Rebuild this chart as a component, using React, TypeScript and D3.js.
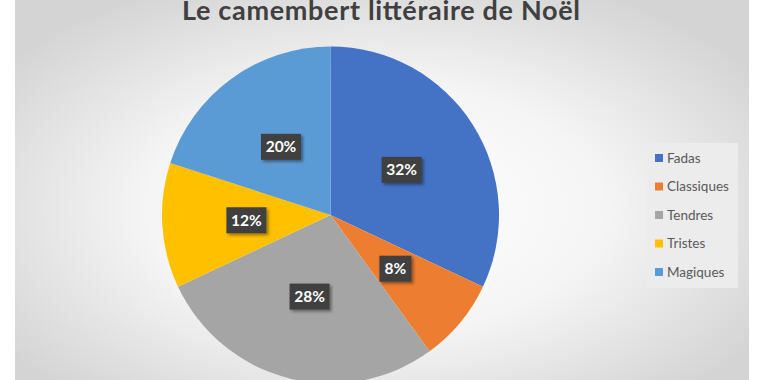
import React from "react";
import * as d3 from "d3";

const categories = ["Fadas", "Classiques", "Tendres", "Tristes", "Magiques"];
const values = [32, 8, 28, 12, 20];
const colors = ["#4472C4", "#ED7D31", "#A5A5A5", "#FFC000", "#5B9BD5"];
const title = "Le camembert littéraire de Noël";

const W = 760;
const H = 380;
const cx = 330.5;
const cy = 215;
const R = 168.5;

export default function App() {
  const pie = d3.pie<number>().sort(null).value((d) => d);
  const arcs = pie(values);
  const arcGen = d3.arc<d3.PieArcDatum<number>>().innerRadius(0).outerRadius(R);
  const total = d3.sum(values);
  const legendY = d3.scalePoint<string>().domain(categories).range([158, 272]);

  return (
    <svg
      width={W}
      height={H}
      style={{ position: "absolute", left: 0, top: 0, background: "#fff" }}
      fontFamily="Lato, 'Open Sans', sans-serif"
    >
      <defs>
        <radialGradient id="bg" cx="49%" cy="52%" r="62%" gradientUnits="objectBoundingBox">
          <stop offset="0%" stopColor="#ffffff" />
          <stop offset="50%" stopColor="#f5f5f5" />
          <stop offset="100%" stopColor="#d4d4d4" />
        </radialGradient>
        <filter id="sh" x="-30%" y="-30%" width="170%" height="170%">
          <feDropShadow dx="2" dy="2" stdDeviation="1.5" floodColor="#000" floodOpacity="0.4" />
        </filter>
      </defs>
      <rect x={15} y={0} width={734} height={400} fill="url(#bg)" />
      <text
        x={381}
        y={20}
        textAnchor="middle"
        fontSize={27}
        fontWeight="bold"
        fill="#404040"
        textLength={398}
        lengthAdjust="spacing"
      >
        {title}
      </text>
      <g>
        {arcs.map((a, i) => (
          <path
            key={categories[i]}
            d={arcGen(a) || ""}
            transform={`translate(${cx},${cy})`}
            fill={colors[i]}
          />
        ))}
      </g>
      <g>
        {arcs.map((a, i) => {
          const [x, y] = arcGen.centroid(a);
          const label = `${Math.round((values[i] / total) * 100)}%`;
          const w = label.length === 2 ? 32 : 40;
          return (
            <g key={categories[i]} transform={`translate(${cx + x},${cy + y})`}>
              <rect
                x={-w / 2}
                y={-13}
                width={w}
                height={26}
                fill="#404040"
                filter="url(#sh)"
              />
              <text
                x={0}
                y={0}
                dy="0.36em"
                textAnchor="middle"
                fontSize={15.5}
                fontWeight="bold"
                fill="#ffffff"
              >
                {label}
              </text>
            </g>
          );
        })}
      </g>
      <g>
        <rect x={647} y={143} width={91} height={145} fill="#ececec" />
        {categories.map((c, i) => {
          const y = legendY(c) as number;
          return (
            <g key={c}>
              <rect x={655} y={y - 4} width={8} height={8} fill={colors[i]} />
              <text x={667} y={y} dy="0.35em" fontSize={13.5} fill="#595959">
                {c}
              </text>
            </g>
          );
        })}
      </g>
    </svg>
  );
}
